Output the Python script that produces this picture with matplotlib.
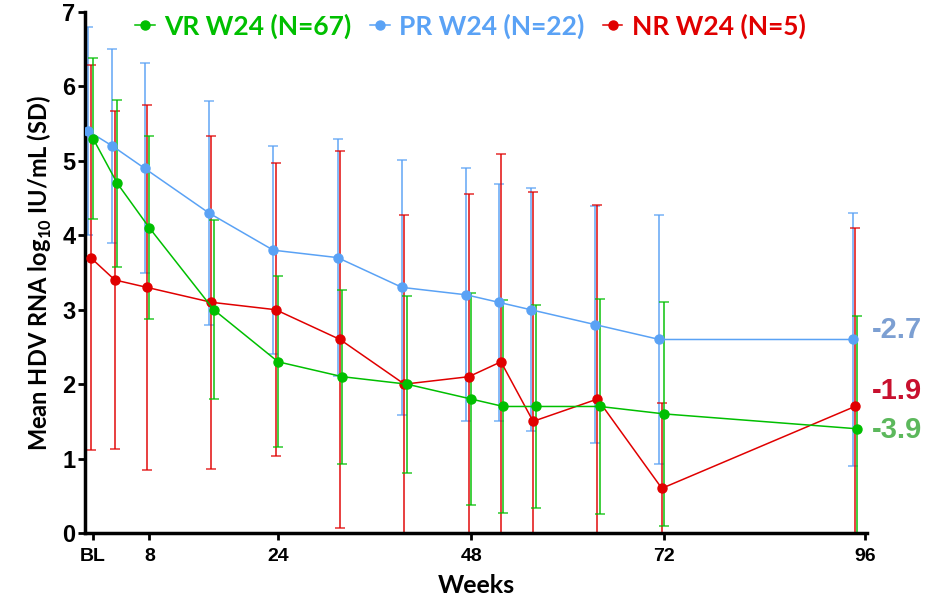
import numpy as np
import matplotlib
matplotlib.use("Agg")
import matplotlib.pyplot as plt

plt.rcParams['font.family'] = ['Lato', 'DejaVu Sans']
plt.rcParams['mathtext.fontset'] = 'custom'
plt.rcParams['mathtext.rm'] = 'Lato'
plt.rcParams['mathtext.bf'] = 'Lato:bold'

# weeks (BL plotted at week 1)
weeks = [1, 4, 8, 16, 24, 32, 40, 48, 52, 56, 64, 72, 96]

# VR W24 (N=67)
vr_mean = [5.3, 4.7, 4.1, 3.0, 2.3, 2.1, 2.0, 1.8, 1.7, 1.7, 1.7, 1.6, 1.4]
vr_sd = [1.08, 1.12, 1.23, 1.2, 1.15, 1.17, 1.19, 1.43, 1.43, 1.36, 1.44, 1.5, 1.52]

# PR W24 (N=22)
pr_mean = [5.4, 5.2, 4.9, 4.3, 3.8, 3.7, 3.3, 3.2, 3.1, 3.0, 2.8, 2.6, 2.6]
pr_sd = [1.4, 1.3, 1.41, 1.51, 1.4, 1.59, 1.71, 1.7, 1.59, 1.63, 1.59, 1.67, 1.7]

# NR W24 (N=5)
nr_mean = [3.7, 3.4, 3.3, 3.1, 3.0, 2.6, 2.0, 2.1, 2.3, 1.5, 1.8, 0.6, 1.7]
nr_sd = [2.59, 2.27, 2.45, 2.24, 1.97, 2.53, 2.27, 2.46, 2.79, 3.08, 2.61, 1.14, 2.4]

xtick_pos = [1, 8, 24, 48, 72, 97]
xtick_labels = ['BL', '8', '24', '48', '72', '96']

change_labels = ['-2.7', '-1.9', '-3.9']

green = '#00BF00'
blue = '#5AA2F5'
red = '#E00000'

fig = plt.figure(figsize=(9.38, 5.98), dpi=100)
ax = fig.add_axes([85/938, 1 - 533/598, 782/938, 521/598])

series = [
    ('PR W24 (N=22)', pr_mean, pr_sd, blue, -0.6),
    ('NR W24 (N=5)', nr_mean, nr_sd, red, -0.3),
    ('VR W24 (N=67)', vr_mean, vr_sd, green, 0.0),
]
handles = {}
for label, m, s, c, off in series:
    x = np.array(weeks) + off
    m = np.array(m)
    s = np.array(s)
    ax.errorbar(x, m, yerr=s, fmt='none', ecolor=c, elinewidth=1.4,
                capsize=3.5, capthick=1.2, alpha=0.75, zorder=2)
    h, = ax.plot(x, m, '-o', color=c, lw=1.1, ms=6.5, zorder=3, label=label)
    handles[label] = h

ax.set_xlim(0, 97.2)
ax.set_ylim(0, 7)
ax.set_xticks(xtick_pos)
ax.set_xticklabels(xtick_labels)
ax.set_yticks(range(8))
for lab in ax.get_xticklabels() + ax.get_yticklabels():
    lab.set_fontfamily('Liberation Sans')
    lab.set_fontweight('bold')
ax.tick_params(axis='x', labelsize=14, width=2, length=5, pad=6)
ax.tick_params(axis='y', labelsize=17, width=2, length=5, pad=2)
ax.spines['top'].set_visible(False)
ax.spines['right'].set_visible(False)
ax.spines['left'].set_linewidth(2.5)
ax.spines['bottom'].set_linewidth(2.5)

ax.set_xlabel('Weeks', fontsize=18, fontweight='bold', labelpad=6)
ax.set_ylabel(r'Mean HDV RNA log$_{\mathbf{10}}$ IU/mL (SD)', fontsize=17,
              fontweight='bold', labelpad=6)

# change-from-baseline labels at the right
ax.text(97.8, 2.73, change_labels[0], color='#7C9FD2', fontsize=21,
        fontweight='bold', fontfamily='Liberation Sans', va='center', clip_on=False)
ax.text(97.8, 1.91, change_labels[1], color='#C8102E', fontsize=21,
        fontweight='bold', fontfamily='Liberation Sans', va='center', clip_on=False)
ax.text(97.8, 1.38, change_labels[2], color='#5CB85C', fontsize=21,
        fontweight='bold', fontfamily='Liberation Sans', va='center', clip_on=False)

order = ['VR W24 (N=67)', 'PR W24 (N=22)', 'NR W24 (N=5)']
ax.legend([handles[k] for k in order], order, loc='center left',
          bbox_to_anchor=(135/938, 1 - 26/598), bbox_transform=fig.transFigure,
          ncol=3, frameon=False, handlelength=0.75, handletextpad=0.35,
          columnspacing=0.7, borderpad=0, borderaxespad=0,
          labelcolor='linecolor', prop={'weight': 'bold', 'size': 19})

fig.savefig('out.png', dpi=100)
